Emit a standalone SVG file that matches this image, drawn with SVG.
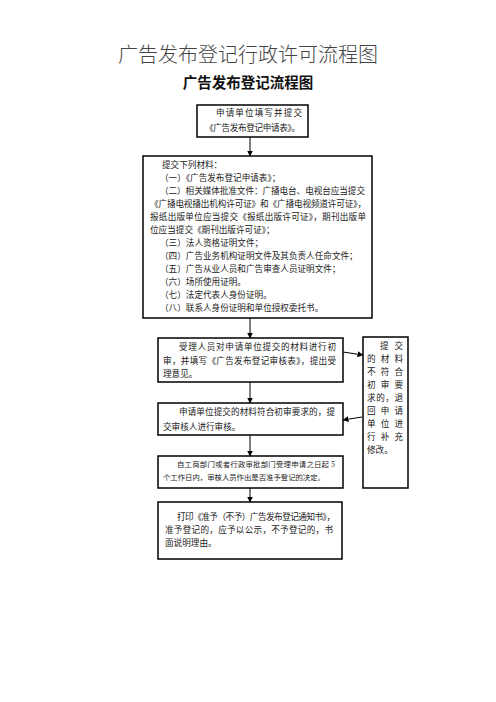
<svg xmlns="http://www.w3.org/2000/svg" width="496" height="702" viewBox="0 0 496 702">
<defs>
<marker id="ah" markerWidth="6" markerHeight="6" refX="5.5" refY="3" orient="auto" markerUnits="userSpaceOnUse">
<path d="M0,0 L6,3 L0,6 Z" fill="#000"/>
</marker>
<style>
.box{fill:#fff;stroke:#000;stroke-width:1.5}
.t{font-family:"Liberation Serif","Noto Sans CJK SC",serif;font-size:8.6px;fill:#222}
.s{font-size:7.4px}
.c{stroke:#000;stroke-width:1;fill:none;marker-end:url(#ah)}
</style>
</defs>
<rect width="496" height="702" fill="#fff"/>
<text x="248" y="62" text-anchor="middle" font-family="'Liberation Serif','Noto Sans CJK SC',serif" font-size="20" font-weight="300" fill="#444">广告发布登记行政许可流程图</text>
<text x="248" y="88" text-anchor="middle" font-family="'Liberation Sans','Noto Sans CJK SC',sans-serif" font-size="14.5" font-weight="bold" fill="#111">广告发布登记流程图</text>

<g id="connectors">
<line class="c" x1="250" y1="137" x2="250" y2="156"/>
<line class="c" x1="250" y1="318" x2="250" y2="338"/>
<line class="c" x1="250" y1="382" x2="250" y2="403"/>
<line class="c" x1="250" y1="435" x2="250" y2="456"/>
<line class="c" x1="250" y1="488" x2="250" y2="502"/>
<line class="c" x1="343" y1="352" x2="363" y2="355"/>
<line class="c" x1="362" y1="417" x2="343" y2="420"/>
</g>

<g id="n1">
<rect class="box" x="197" y="105" width="111" height="32"/>
<text class="t" x="216" y="116" textLength="86" lengthAdjust="spacing">申请单位填写并提交</text>
<text class="t" x="205" y="131" textLength="95" lengthAdjust="spacing">《广告发布登记申请表》。</text>
</g>

<g id="n2">
<rect class="box" x="143" y="156" width="229" height="162"/>
<text class="t" x="162" y="168">提交下列材料：</text>
<text class="t" x="160" y="181">（一）《广告发布登记申请表》；</text>
<text class="t" x="160" y="194" textLength="205" lengthAdjust="spacing">（二）相关媒体批准文件：广播电台、电视台应当提交</text>
<text class="t" x="150" y="207" textLength="216" lengthAdjust="spacing">《广播电视播出机构许可证》和《广播电视频道许可证》，</text>
<text class="t" x="150" y="220" textLength="216" lengthAdjust="spacing">报纸出版单位应当提交《报纸出版许可证》，期刊出版单</text>
<text class="t" x="150" y="233">位应当提交《期刊出版许可证》；</text>
<text class="t" x="160" y="246">（三）法人资格证明文件；</text>
<text class="t" x="160" y="259">（四）广告业务机构证明文件及其负责人任命文件；</text>
<text class="t" x="160" y="272">（五）广告从业人员和广告审查人员证明文件；</text>
<text class="t" x="160" y="285">（六）场所使用证明。</text>
<text class="t" x="160" y="298">（七）法定代表人身份证明。</text>
<text class="t" x="160" y="311">（八）联系人身份证明和单位授权委托书。</text>
</g>

<g id="n3">
<rect class="box" x="158" y="338" width="185" height="44"/>
<text class="t" x="179" y="350" textLength="157" lengthAdjust="spacing">受理人员对申请单位提交的材料进行初</text>
<text class="t" x="163" y="364" textLength="173" lengthAdjust="spacing">审，并填写《广告发布登记审核表》，提出受</text>
<text class="t" x="163" y="377">理意见。</text>
</g>

<g id="n4">
<rect class="box" x="158" y="403" width="185" height="32"/>
<text class="t" x="179" y="415" textLength="156" lengthAdjust="spacing">申请单位提交的材料符合初审要求的，提</text>
<text class="t" x="163" y="430">交审核人进行审核。</text>
</g>

<g id="n5">
<rect class="box" x="158" y="456" width="185" height="32"/>
<text class="t s" x="177" y="467" textLength="158" lengthAdjust="spacing">自工商部门或者行政审批部门受理申请之日起 5</text>
<text class="t s" x="163" y="480" textLength="162" lengthAdjust="spacing">个工作日内，审核人员作出是否准予登记的决定。</text>
</g>

<g id="n6">
<rect class="box" x="158" y="502" width="184" height="57"/>
<text class="t" x="177" y="520" textLength="158" lengthAdjust="spacing">打印《准予（不予）广告发布登记通知书》，</text>
<text class="t" x="165" y="533" textLength="168" lengthAdjust="spacing">准予登记的，应予以公示，不予登记的，书</text>
<text class="t" x="165" y="546">面说明理由。</text>
</g>

<g id="n7">
<rect class="box" x="363" y="337" width="45" height="151"/>
<text class="t" x="380" y="349" textLength="23" lengthAdjust="spacing">提交</text>
<text class="t" x="367" y="362" textLength="36" lengthAdjust="spacing">的材料</text>
<text class="t" x="367" y="375" textLength="36" lengthAdjust="spacing">不符合</text>
<text class="t" x="367" y="388" textLength="36" lengthAdjust="spacing">初审要</text>
<text class="t" x="367" y="401" textLength="36" lengthAdjust="spacing">求的，退</text>
<text class="t" x="367" y="414" textLength="36" lengthAdjust="spacing">回申请</text>
<text class="t" x="367" y="427" textLength="36" lengthAdjust="spacing">单位进</text>
<text class="t" x="367" y="440" textLength="36" lengthAdjust="spacing">行补充</text>
<text class="t" x="367" y="453">修改。</text>
</g>
</svg>
